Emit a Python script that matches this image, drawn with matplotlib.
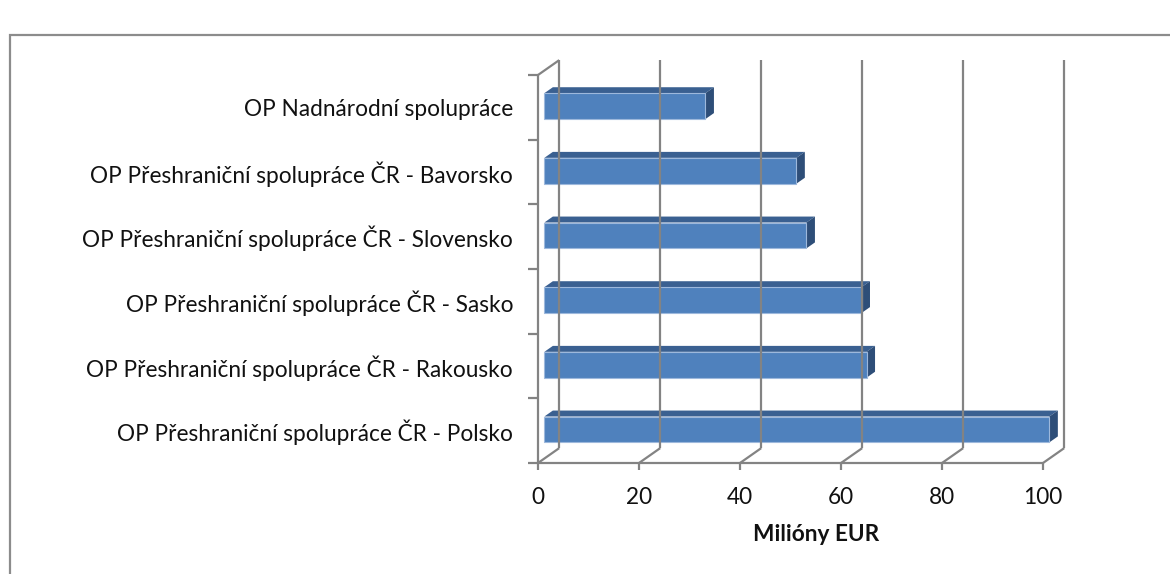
import matplotlib.pyplot as plt
from matplotlib.patches import Polygon, Rectangle

plt.rcParams['font.family'] = ['Lato', 'DejaVu Sans']

programmes = [
    "OP Přeshraniční spolupráce ČR - Polsko",
    "OP Přeshraniční spolupráce ČR - Rakousko",
    "OP Přeshraniční spolupráce ČR - Sasko",
    "OP Přeshraniční spolupráce ČR - Slovensko",
    "OP Přeshraniční spolupráce ČR - Bavorsko",
    "OP Nadnárodní spolupráce",
]
amounts = [100, 63.8, 62.8, 51.9, 49.9, 31.9]
xticks = [0, 20, 40, 60, 80, 100]

grid_c = '#838383'
front_c = '#4f81bd'
top_c = '#3a6091'
side_c = '#2e4e78'

# depth of the 3d box in data units (x, y)
DX, DY = 4.2, 0.23
bar_h = 0.40
d1, d2 = 0.30, 0.70

fig = plt.figure(figsize=(11.7, 5.74), dpi=100)
ax = fig.add_axes([538 / 1170, 111 / 574, 505 / 1170, 388 / 574])
ax.set_xlim(0, 100)
ax.set_ylim(0, len(programmes))
ax.axis('off')

# border of the chart area
fig.patches.append(Rectangle((10 / 1170, -0.1), 1.2, 1.1 - 35 / 574,
                             transform=fig.transFigure, fill=False,
                             edgecolor='#8c8c8c', lw=1.6))

n = len(programmes)
kw = dict(color=grid_c, lw=1.6, clip_on=False, solid_capstyle='butt')

# back wall gridlines and floor
for t in xticks:
    ax.plot([t + DX, t + DX], [DY, n + DY], **kw)
    ax.plot([t, t + DX], [0, DY], **kw)
    ax.plot([t, t], [0, -0.11], **kw)
ax.plot([0, 100], [0, 0], **kw)

# left wall
ax.plot([0, 0], [0, n], **kw)
ax.plot([0, DX], [n, n + DY], **kw)
for i in range(n + 1):
    ax.plot([0, -2], [i, i], **kw)

# bars
for i, v in enumerate(amounts):
    x0, y0 = d1 * DX, i + 0.5 - bar_h / 2 + d1 * DY - 0.05
    x1, y1 = v + d1 * DX, y0 + bar_h
    ex, ey = (d2 - d1) * DX, (d2 - d1) * DY
    ax.add_patch(Polygon([(x0, y1), (x1, y1), (x1 + ex, y1 + ey), (x0 + ex, y1 + ey)],
                         closed=True, facecolor=top_c, edgecolor='none', clip_on=False))
    ax.add_patch(Polygon([(x1, y0), (x1 + ex, y0 + ey), (x1 + ex, y1 + ey), (x1, y1)],
                         closed=True, facecolor=side_c, edgecolor='none', clip_on=False))
    ax.add_patch(Rectangle((x0, y0), v, bar_h, facecolor=front_c,
                           edgecolor='#9db8dc', lw=0.8, clip_on=False))

# labels
fs = 16.3
for i, name in enumerate(programmes):
    ax.text(-4.95, i + 0.47, name, ha='right', va='center', fontsize=fs, color='#111111')
for t in xticks:
    ax.text(t, -0.53, str(t), ha='center', va='center', fontsize=fs, color='#111111')
ax.text(55, -1.11, "Milióny EUR", ha='center', va='center', fontsize=fs,
        fontweight='bold', color='#111111')

fig.savefig('out.png', dpi=100)
